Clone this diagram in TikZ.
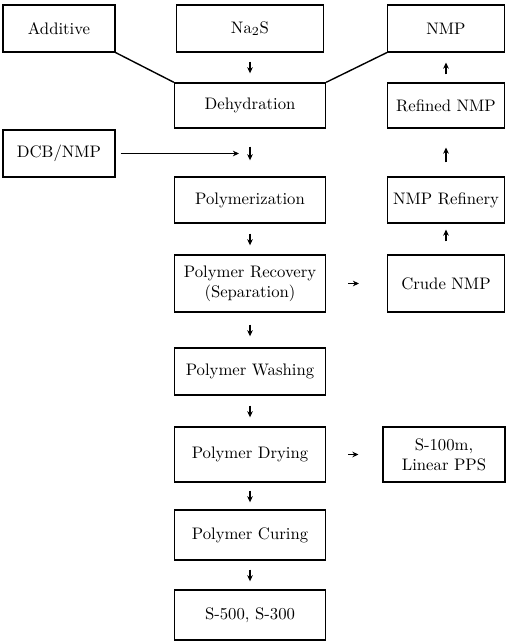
\documentclass[tikz,border=0pt]{standalone}
\usetikzlibrary{arrows.meta}
\begin{document}
\begin{tikzpicture}[x=0.02cm, y=-0.02cm, mainStyle/.style={rectangle, draw, line width=0.8pt, minimum width=3.02cm, align=center, inner sep=1pt, font=\fontsize{9.5}{11.5}\selectfont}, sideStyle/.style={rectangle, draw, line width=0.6pt, minimum width=2.34cm, align=center, inner sep=1pt, font=\fontsize{9.5}{11.5}\selectfont}, flowStyle/.style={-{Stealth[length=3.5pt, width=3.2pt]}, line width=0.7pt}]
                    \useasboundingbox (0, 0) rectangle (506, 642);

                    \node[sideStyle, minimum width=2.24cm, minimum height=0.94cm] (additive) at ( 59,  28.5) {Additive};
                    \node[mainStyle, minimum width=2.94cm, minimum height=0.94cm] (na2s)     at (250,  28.5) {Na$_2$S};
                    \node[sideStyle, minimum height=0.94cm]                       (nmp)      at (446,  28.5) {NMP};

                    \node[mainStyle, minimum height=0.90cm] (dehyd)   at (250, 105.5) {Dehydration};
                    \node[sideStyle, minimum height=0.90cm] (refined) at (446, 105.5) {Refined NMP};

                    \node[sideStyle, minimum width=2.24cm, minimum height=0.94cm] (dcb) at (59, 153.5) {DCB/NMP};
                    \coordinate (dcb_end) at (239, 153.5);

                    \node[mainStyle, minimum height=0.92cm] (polym)    at (250, 200) {Polymerization};
                    \node[sideStyle, minimum height=0.92cm] (refinery) at (446, 200) {NMP Refinery};

                    \node[mainStyle, minimum height=1.14cm] (recov) at (250, 283.5) {Polymer Recovery\\(Separation)};
                    \node[sideStyle, minimum height=1.14cm] (crude) at (446, 283.5) {Crude NMP};

                    \node[mainStyle, minimum height=0.94cm] (wash) at (250, 371.5) {Polymer Washing};

                    \node[mainStyle, minimum height=1.10cm] (dry)  at (250, 454.5) {Polymer Drying};
                    \node[sideStyle, minimum width=2.44cm, minimum height=1.10cm] (linear) at (444, 454.5) {S-100m,\\Linear PPS};

                    \node[mainStyle, minimum height=1.00cm] (cure)  at (250, 535) {Polymer Curing};
                    \node[mainStyle, minimum height=1.00cm] (grade) at (250, 615) {S-500, S-300};

                    \draw[line width=0.8pt] (additive.south east) -- (dehyd.north west);
                    \draw[line width=0.8pt] (nmp.south west) -- (dehyd.north east);

                    \draw[flowStyle, shorten <=0.18cm, shorten >=0.18cm] (na2s.south) -- (dehyd.north);
                    \draw[flowStyle, shorten <=0.36cm, shorten >=0.32cm] (dehyd.south) -- (polym.north);
                    \draw[flowStyle, shorten <=0.1cm] (dcb.east) -- (dcb_end);
                    \draw[flowStyle, shorten <=0.2cm, shorten >=0.18cm] (polym.south) -- (recov.north);
                    \draw[flowStyle, shorten <=0.24cm, shorten >=0.22cm] (recov.south) -- (wash.north);
                    \draw[flowStyle, shorten <=0.2cm, shorten >=0.18cm] (wash.south) -- (dry.north);
                    \draw[flowStyle, shorten <=0.16cm, shorten >=0.14cm] (dry.south) -- (cure.north);
                    \draw[flowStyle, shorten <=0.18cm, shorten >=0.16cm] (cure.south) -- (grade.north);

                    \draw[flowStyle, shorten <=0.16cm, shorten >=0.2cm] (refined.north) -- (nmp.south);
                    \draw[flowStyle, shorten <=0.28cm, shorten >=0.38cm] (refinery.north) -- (refined.south);
                    \draw[flowStyle, shorten <=0.26cm, shorten >=0.12cm] (crude.north) -- (refinery.south);

                    \draw[flowStyle, shorten <=0.44cm, shorten >=0.56cm] (recov.east) -- (crude.west);
                    \draw[flowStyle, shorten <=0.44cm, shorten >=0.48cm] (dry.east) -- (linear.west);
                \end{tikzpicture}
\end{document}
